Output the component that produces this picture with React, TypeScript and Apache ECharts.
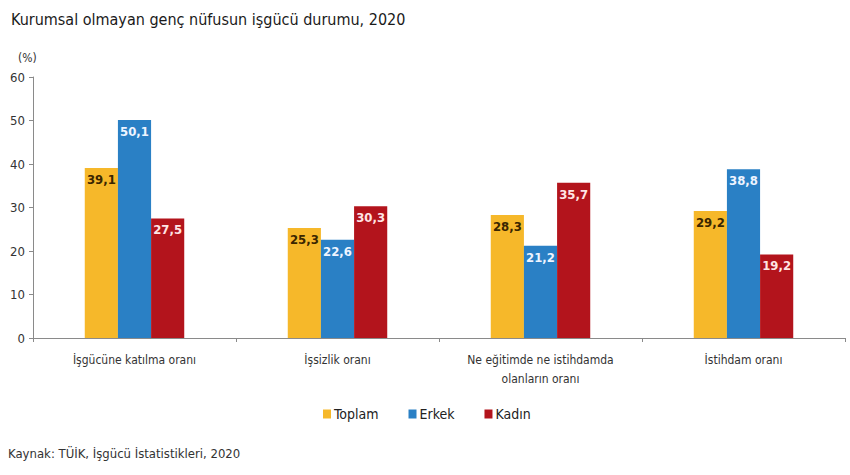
import React, { useEffect, useRef } from "react";
import * as echarts from "echarts";

const categories = [
  "İşgücüne katılma oranı",
  "İşsizlik oranı",
  "Ne eğitimde ne istihdamda\nolanların oranı",
  "İstihdam oranı",
];
const toplam = [39.1, 25.3, 28.3, 29.2];
const erkek = [50.1, 22.6, 21.2, 38.8];
const kadin = [27.5, 30.3, 35.7, 19.2];
const seriesNames = ["Toplam", "Erkek", "Kadın"];
const yTicks = [0, 10, 20, 30, 40, 50, 60];

const FONT = "'Liberation Sans Narrow', 'DejaVu Sans Condensed', 'Liberation Sans', Arial, sans-serif";

export default function App() {
  const ref = useRef<HTMLDivElement>(null);
  useEffect(() => {
    if (!ref.current) return;
    const chart = echarts.init(ref.current, undefined, { renderer: "svg" });
    const fmt = (p: any) => String(p.value).replace(".", ",");
    const mk = (name: string, data: number[], color: string, labelColor: string) => ({
      name,
      type: "bar",
      data,
      barGap: "0%",
      barCategoryGap: "51%",
      itemStyle: { color },
      label: {
        show: true,
        position: "insideTop",
        distance: 5,
        color: labelColor,
        fontFamily: FONT,
        fontSize: 13,
        fontWeight: "bold",
        formatter: fmt,
      },
    });
    chart.setOption({
      animation: false,
      textStyle: { fontFamily: FONT },
      title: {
        text: "Kurumsal olmayan genç nüfusun işgücü durumu, 2020",
        left: 6,
        top: 6,
        textStyle: { fontFamily: FONT, fontSize: 16, fontWeight: "normal", color: "#1a1a1a" },
      },
      graphic: [
        {
          type: "text",
          left: 18,
          top: 52,
          style: { text: "(%)", fontFamily: FONT, fontSize: 12, fill: "#333" },
        },
        {
          type: "text",
          left: 8,
          top: 447,
          style: {
            text: "Kaynak: TÜİK, İşgücü İstatistikleri, 2020",
            fontFamily: FONT,
            fontSize: 13,
            fill: "#333",
          },
        },
      ],
      legend: {
        data: seriesNames,
        left: 318,
        top: 402,
        icon: "rect",
        itemWidth: 8,
        itemHeight: 9,
        itemGap: 30,
        textStyle: { fontFamily: FONT, fontSize: 14, color: "#222", padding: [0, 0, 0, -2] },
      },
      grid: { left: 33, right: 5, top: 77, bottom: 137, containLabel: false },
      xAxis: {
        type: "category",
        data: categories,
        axisLine: { lineStyle: { color: "#8a8a8a" } },
        axisTick: { show: true, alignWithLabel: false, length: 4, lineStyle: { color: "#8a8a8a" } },
        axisLabel: {
          interval: 0,
          margin: 12,
          fontFamily: FONT,
          fontSize: 12,
          color: "#333",
          lineHeight: 19,
        },
      },
      yAxis: {
        type: "value",
        min: yTicks[0],
        max: yTicks[yTicks.length - 1],
        interval: 10,
        axisLine: { show: true, lineStyle: { color: "#8a8a8a" } },
        axisTick: { show: true, length: 4, lineStyle: { color: "#8a8a8a" } },
        splitLine: { show: false },
        axisLabel: { fontFamily: FONT, fontSize: 13, color: "#333", margin: 8 },
      },
      series: [
        mk(seriesNames[0], toplam, "#F6B82A", "#3a2600"),
        mk(seriesNames[1], erkek, "#2A80C5", "#eef4ff"),
        mk(seriesNames[2], kadin, "#B3141C", "#ffe4e4"),
      ],
    });
    return () => chart.dispose();
  }, []);
  return (
    <div
      ref={ref}
      style={{ position: "fixed", left: 0, top: 0, width: 850, height: 475, background: "#fff" }}
    />
  );
}
